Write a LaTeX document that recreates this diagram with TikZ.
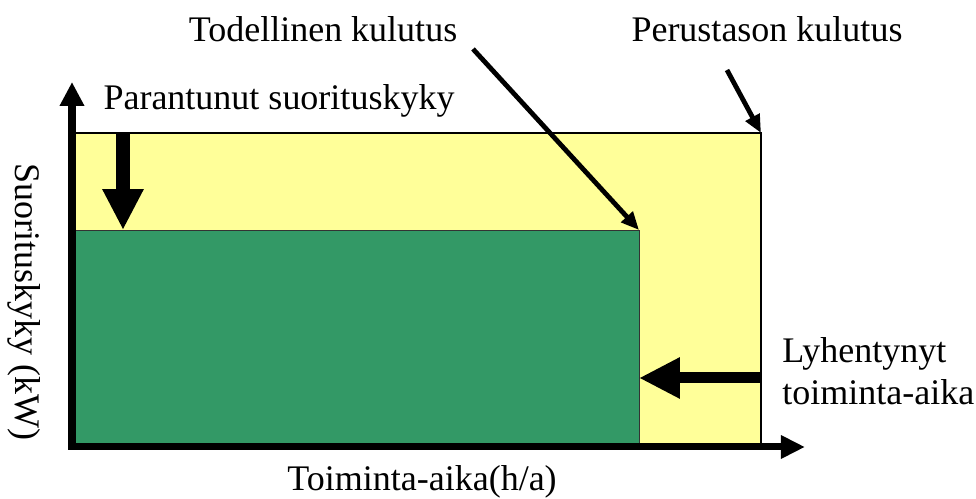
\documentclass[tikz,border=0pt]{standalone}
\usepackage{fontspec}
\setmainfont{Liberation Serif}
\usetikzlibrary{arrows.meta}

\definecolor{basefill}{HTML}{FFFF99}
\definecolor{realfill}{HTML}{339966}

\begin{document}
\begin{tikzpicture}[x=0.025cm, y=0.025cm,
    % Labels, axes and arrows
    lbl/.style={font=\fontsize{25.6}{30}\selectfont, inner sep=0pt, text=black},
    axis/.style={line width=0.175cm, {Triangle[length=0.6cm, width=0.58cm]}-{Triangle[length=0.6cm, width=0.55cm]}},
    bigarrow/.style={line width=#1, -{Triangle[length=1.02cm, width=0.96cm]}},
    pointer/.style={line width=0.12cm, -{Triangle[length=0.45cm, width=0.38cm]}}
]
\useasboundingbox (0,0) rectangle (976,499);

% ---------------------------------------------------------
% 1. CORNER POINTS
% ---------------------------------------------------------
\coordinate (O) at (72,52);
\coordinate (ytop) at (72,417);
\coordinate (xend) at (805,52);
\coordinate (base) at (761,366);
\coordinate (real) at (639,269);

% ---------------------------------------------------------
% 2. AREAS (baseline and actual consumption)
% ---------------------------------------------------------
\filldraw[fill=basefill, draw=black, line width=1pt] (O) rectangle (base);
\filldraw[fill=realfill, draw=black!80, line width=0.6pt] (O) rectangle (real);

% axes
\draw[axis] (ytop) -- (O) -- (xend);

% ---------------------------------------------------------
% 3. TEXTS
% ---------------------------------------------------------
\node[lbl, anchor=base] (tod) at (323,457) {Todellinen kulutus};
\node[lbl, anchor=base] (per) at (767,457) {Perustason kulutus};
\node[lbl, anchor=base] (par) at (279,389) {Parantunut suorituskyky};
\node[lbl, anchor=base west, align=left] (lyh) at (782,94) {Lyhentynyt\\toiminta-aika};
\node[lbl, anchor=base west] (xlab) at (287,8) {Toiminta-aika(h/a)};
\node[lbl, rotate=-90] (ylab) at (24,197) {Suorituskyky (kW)};

% ---------------------------------------------------------
% 4. ARROWS
% ---------------------------------------------------------
\coordinate (todstart) at (473,450);
\coordinate (perstart) at (727,429);
\draw[pointer] (todstart) -- (real);
\draw[pointer] (perstart) -- (base);

\coordinate (downtail) at (123,366);
\coordinate (downtip) at (123,269);
\draw[bigarrow=0.325cm] (downtail) -- (downtip);

\coordinate (lefttail) at (761,121);
\coordinate (lefttip) at (639,121);
\draw[bigarrow=0.275cm] (lefttail) -- (lefttip);

\end{tikzpicture}
\end{document}
